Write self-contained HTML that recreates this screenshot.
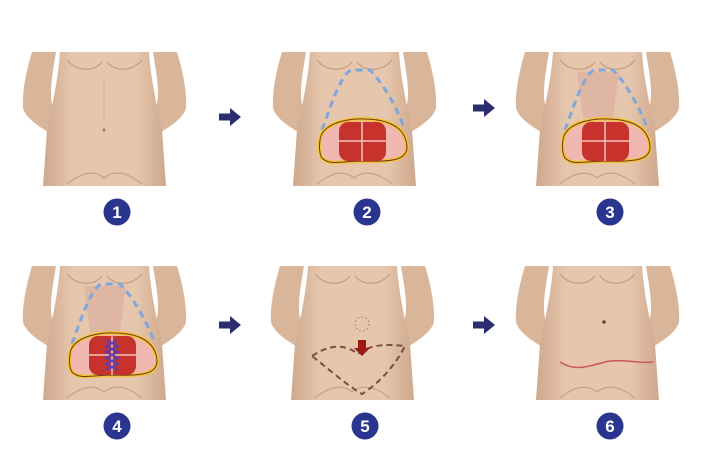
<!DOCTYPE html>
<html><head><style>
html,body{margin:0;padding:0;background:#fff;width:720px;height:460px;overflow:hidden}
text{font-family:"Liberation Sans",sans-serif;font-weight:bold}
</style></head><body>
<svg width="720" height="460" viewBox="0 0 720 460" xmlns="http://www.w3.org/2000/svg">
<defs>
<linearGradient id="sk" x1="0" x2="1">
<stop offset="0" stop-color="#cfa88c"/><stop offset="0.25" stop-color="#e6c7ae"/><stop offset="0.75" stop-color="#e6c7ae"/><stop offset="1" stop-color="#cfa88c"/>
</linearGradient>
<g id="torso">
<path d="M10,0 L34,0 C30,25 26,45 32,58 L47,76 L40,88 C22,78 4,68 1,56 C0,40 4,20 10,0 Z" fill="#d9b59a"/>
<path d="M155,0 L131,0 C135,25 139,45 133,58 L118,76 L125,88 C143,78 161,68 164,56 C165,40 161,20 155,0 Z" fill="#d9b59a"/>
<path d="M38,0 L127,0 C129,30 136,58 140,78 L144,134 L21,134 L25,78 C29,58 36,30 38,0 Z" fill="url(#sk)"/>
<path d="M45,8 C55,20 72,20 80,10 M85,10 C93,20 110,20 120,8" stroke="#c49c82" stroke-width="1.2" fill="none"/>
<path d="M45,132 C60,120 72,118 82,126 C92,118 105,120 120,132" stroke="#c9a087" stroke-width="1.2" fill="none"/>
</g>
<g id="flap">
<path d="M48,88 C50,70 80,66 92,67 C110,67 134,72 135,95 C135,108 120,110 92,109 C70,109 58,114 50,106 C47,101 47,95 48,88 Z" fill="#f0b8b0" stroke="#f5c33a" stroke-width="4"/>
<path d="M48,88 C50,70 80,66 92,67 C110,67 134,72 135,95 C135,108 120,110 92,109 C70,109 58,114 50,106 C47,101 47,95 48,88 Z" fill="none" stroke="#6b3a1a" stroke-width="1"/>
<rect x="67" y="70" width="47" height="39" rx="9" fill="#c8322c"/>
<path d="M90,70 V109 M67,89 H114" stroke="#f2c4c0" stroke-width="1.5"/>
</g>
<g id="num"><circle cx="95" cy="160" r="13.5" fill="#2a3590"/></g>
<path id="arr" d="M0,-3.5 H11 V-9 L22,0 L11,9 V3.5 H0 Z" fill="#2a2d6e"/>
</defs>

<g transform="translate(22,52)">
<use href="#torso"/>
<path d="M82,30 V70" stroke="#d0aa90" stroke-width="1"/>
<circle cx="82" cy="78" r="1.5" fill="#a07860"/>
<use href="#num"/><text x="95" y="166" font-size="17" fill="#fff" text-anchor="middle">1</text>
</g>
<g transform="translate(272,52)">
<use href="#torso"/>
<path d="M50,78 C60,50 70,20 80,18 L98,18 C110,30 125,55 133,78" stroke="#7ea7dd" stroke-width="3" stroke-dasharray="7,5" fill="none"/>
<use href="#flap"/>
<use href="#num"/><text x="95" y="166" font-size="17" fill="#fff" text-anchor="middle">2</text>
</g>
<g transform="translate(515,52)">
<use href="#torso"/>
<path d="M62,20 L104,20 L98,66 L68,66 Z" fill="#dcaea0" opacity="0.7"/>
<path d="M50,78 C60,50 70,20 80,18 L98,18 C110,30 125,55 133,78" stroke="#7ea7dd" stroke-width="3" stroke-dasharray="7,5" fill="none"/>
<use href="#flap"/>
<use href="#num"/><text x="95" y="166" font-size="17" fill="#fff" text-anchor="middle">3</text>
</g>
<g transform="translate(22,266)">
<use href="#torso"/>
<path d="M62,20 L104,20 L98,66 L68,66 Z" fill="#dcaea0" opacity="0.7"/>
<path d="M50,78 C60,50 70,20 80,18 L98,18 C110,30 125,55 133,78" stroke="#7ea7dd" stroke-width="3" stroke-dasharray="7,5" fill="none"/>
<use href="#flap"/>
<path d="M84,74 L96,80 L84,86 L96,92 L84,98 L96,104 M96,74 L84,80 L96,86 L84,92 L96,98 L84,104" stroke="#5a3fb0" stroke-width="2" fill="none"/>
<use href="#num"/><text x="95" y="166" font-size="17" fill="#fff" text-anchor="middle">4</text>
</g>
<g transform="translate(270,266)">
<use href="#torso"/>
<circle cx="92" cy="58" r="7" fill="none" stroke="#b08a72" stroke-width="1" stroke-dasharray="2,2"/>
<path d="M42,90 C60,78 75,78 88,88 C100,78 118,78 135,80 C125,100 108,118 92,128 C75,118 55,100 42,90 Z" fill="none" stroke="#7a5040" stroke-width="2" stroke-dasharray="6,4"/>
<path d="M88,74 H96 V82 H100 L92,90 L84,82 H88 Z" fill="#9a1b14"/>
<use href="#num"/><text x="95" y="166" font-size="17" fill="#fff" text-anchor="middle">5</text>
</g>
<g transform="translate(515,266)">
<use href="#torso"/>
<circle cx="89" cy="56" r="1.8" fill="#6a4030"/>
<path d="M45,96 C60,106 75,100 90,96 C105,92 125,98 138,96" stroke="#c8585a" stroke-width="1.5" fill="none"/>
<use href="#num"/><text x="95" y="166" font-size="17" fill="#fff" text-anchor="middle">6</text>
</g>

<use href="#arr" x="219" y="117"/>
<use href="#arr" x="473" y="108"/>
<use href="#arr" x="219" y="325"/>
<use href="#arr" x="473" y="325"/>
</svg>
</body></html>
